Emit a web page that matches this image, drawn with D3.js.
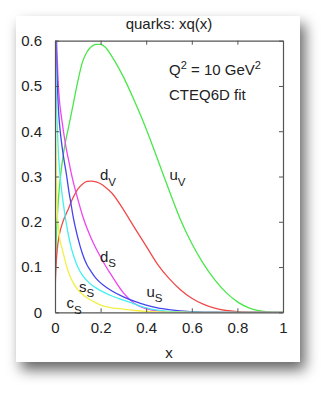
<!DOCTYPE html>
<html><head><meta charset="utf-8">
<script src="https://cdn.jsdelivr.net/npm/d3@7"></script>
<style>
html,body{margin:0;padding:0;background:#fff;}
svg{display:block;font-family:"Liberation Sans",Arial,Helvetica,sans-serif;}
</style></head>
<body><svg id="c" width="332" height="394"></svg>
<script>
// ---- data ----
const xs     = [0, 0.001, 0.003, 0.006, 0.01, 0.015, 0.02, 0.03, 0.04, 0.05, 0.06, 0.07, 0.08, 0.1, 0.12, 0.14, 0.16, 0.18, 0.2, 0.22, 0.25, 0.3, 0.35, 0.4, 0.45, 0.5, 0.55, 0.6, 0.65, 0.7, 0.75, 0.8, 0.85, 0.9, 0.95, 1.0];
const uValence = [0, 0.06, 0.11, 0.17, 0.21, 0.25, 0.28, 0.325, 0.36, 0.387, 0.41, 0.435, 0.46, 0.51, 0.552, 0.575, 0.587, 0.592, 0.592, 0.586, 0.565, 0.52, 0.465, 0.405, 0.338, 0.27, 0.205, 0.152, 0.108, 0.072, 0.044, 0.023, 0.01, 0.003, 0.0005, 0];
const dValence = [0, 0.05, 0.085, 0.115, 0.14, 0.16, 0.174, 0.193, 0.207, 0.219, 0.23, 0.243, 0.254, 0.272, 0.283, 0.289, 0.29, 0.288, 0.284, 0.277, 0.263, 0.227, 0.186, 0.146, 0.106, 0.075, 0.05, 0.031, 0.018, 0.009, 0.004, 0.0015, 0.0004, 0.0001, 0, 0];
const dSea   = [null, 1.0, 0.8, 0.63, 0.56, 0.5, 0.465, 0.425, 0.39, 0.36, 0.335, 0.31, 0.288, 0.25, 0.215, 0.186, 0.162, 0.141, 0.122, 0.104, 0.08, 0.043, 0.019, 0.008, 0.003, 0.001, 0.0004, 0.0001, 0, 0, 0, 0, 0, 0, 0, 0];
const uSea   = [null, 0.9, 0.7, 0.58, 0.51, 0.45, 0.415, 0.37, 0.335, 0.305, 0.27, 0.24, 0.21, 0.165, 0.13, 0.105, 0.089, 0.075, 0.065, 0.057, 0.047, 0.034, 0.024, 0.016, 0.01, 0.006, 0.003, 0.0015, 0.0005, 0.0002, 0, 0, 0, 0, 0, 0];
const sSea   = [null, 0.78, 0.58, 0.47, 0.41, 0.35, 0.315, 0.265, 0.228, 0.195, 0.168, 0.145, 0.127, 0.1, 0.082, 0.07, 0.061, 0.054, 0.048, 0.043, 0.036, 0.027, 0.018, 0.01, 0.005, 0.002, 0.0008, 0.0002, 0, 0, 0, 0, 0, 0, 0, 0];
const cSea   = [null, 0.55, 0.42, 0.3, 0.22, 0.19, 0.165, 0.143, 0.123, 0.103, 0.088, 0.075, 0.065, 0.05, 0.04, 0.032, 0.026, 0.021, 0.016, 0.013, 0.01, 0.007, 0.004, 0.002, 0.001, 0.0005, 0.0002, 0, 0, 0, 0, 0, 0, 0, 0, 0];
const xTicks = [0, 0.2, 0.4, 0.6, 0.8, 1];
const yTicks = [0, 0.1, 0.2, 0.3, 0.4, 0.5, 0.6];
const series = [
  {name:"uV", values:uValence, color:"#48e848"},
  {name:"dV", values:dValence, color:"#f04a4a"},
  {name:"dS", values:dSea,     color:"#f044f0"},
  {name:"uS", values:uSea,     color:"#4444f0"},
  {name:"sS", values:sSea,     color:"#44f0f0"},
  {name:"cS", values:cSea,     color:"#f0f044"}
];

const svg = d3.select("#c");
const defs = svg.append("defs");
const f = defs.append("filter").attr("id","sh").attr("x","-20%").attr("y","-20%").attr("width","150%").attr("height","150%");
f.append("feDropShadow").attr("dx",5).attr("dy",8).attr("stdDeviation",7).attr("flood-color","#000").attr("flood-opacity",0.6);

// card
svg.append("rect").attr("x",16).attr("y",16).attr("width",284).attr("height",346)
  .attr("fill","#fff").attr("filter","url(#sh)");

const L=55, R=283, T=40.7, B=312.3;
const x = d3.scaleLinear().domain([0,1]).range([L,R]);
const y = d3.scaleLinear().domain([0,0.6]).range([B,T]);

defs.append("clipPath").attr("id","clip").append("rect")
  .attr("x",L).attr("y",T).attr("width",R-L).attr("height",B-T);

const g = svg.append("g");
const line = d3.line()
  .defined(d => d[1] !== null)
  .x(d => x(d[0])).y(d => y(d[1]))
  .curve(d3.curveMonotoneX);

const plot = g.append("g").attr("clip-path","url(#clip)");
series.forEach(s => {
  plot.append("path")
    .datum(xs.map((v,i)=>[v, s.values[i]]))
    .attr("fill","none").attr("stroke",s.color).attr("stroke-width",1.3)
    .attr("d", line);
});

// axes (gnuplot-style frame with inward ticks)
const axCol = "#555";
const tick = 4;
const fs = 15;
const axB = g.append("g").attr("transform",`translate(0,${B})`)
  .call(d3.axisBottom(x).tickValues(xTicks).tickSizeInner(-tick).tickSizeOuter(0).tickPadding(10).tickFormat(d3.format("")));
const axT = g.append("g").attr("transform",`translate(0,${T})`)
  .call(d3.axisTop(x).tickValues(xTicks).tickSizeInner(-tick).tickSizeOuter(0).tickFormat(""));
const axL = g.append("g").attr("transform",`translate(${L},0)`)
  .call(d3.axisLeft(y).tickValues(yTicks).tickSizeInner(-tick).tickSizeOuter(0).tickPadding(13).tickFormat(d3.format("")));
const axR = g.append("g").attr("transform",`translate(${R},0)`)
  .call(d3.axisRight(y).tickValues(yTicks).tickSizeInner(-tick).tickSizeOuter(0).tickFormat(""));
[axB,axT,axL,axR].forEach(a=>{
  a.select(".domain").attr("stroke",axCol).attr("stroke-width",1.2);
  a.selectAll(".tick line").attr("stroke",axCol).attr("stroke-width",1);
  a.selectAll("text").attr("font-size",fs).attr("fill","#222").attr("font-family",'"Liberation Sans",Arial,sans-serif');
});
axB.selectAll(".tick text").attr("dy","0.71em");

// titles
const txt = (tx,ty,s,anchor="start",size=fs) => g.append("text").attr("x",tx).attr("y",ty)
  .attr("font-size",size).attr("fill","#222").attr("text-anchor",anchor).text(s);
txt((L+R)/2, 29.3, "quarks: xq(x)", "middle");
txt((L+R)/2, 358, "x", "middle");

// Q^2 annotation
const q = g.append("text").attr("x",169).attr("y",75).attr("font-size",fs).attr("fill","#222");
q.append("tspan").text("Q");
q.append("tspan").attr("font-size",11).attr("dy",-6).text("2");
q.append("tspan").attr("dy",6).text(" = 10 GeV");
q.append("tspan").attr("font-size",11).attr("dy",-6).text("2");
txt(169, 100, "CTEQ6D fit");

// curve labels
const labels = [
  {t:"d", s:"V", x:100, y:180},
  {t:"u", s:"V", x:169.5, y:180},
  {t:"d", s:"S", x:100, y:261.5},
  {t:"u", s:"S", x:146.5, y:296.5},
  {t:"s", s:"S", x:79, y:291.5},
  {t:"c", s:"S", x:66.5, y:308}
];
labels.forEach(l=>{
  const t = g.append("text").attr("x",l.x).attr("y",l.y).attr("font-size",fs).attr("fill","#222");
  t.append("tspan").text(l.t);
  t.append("tspan").attr("font-size",11.5).attr("dy",5.5).text(l.s);
});
</script></body></html>
